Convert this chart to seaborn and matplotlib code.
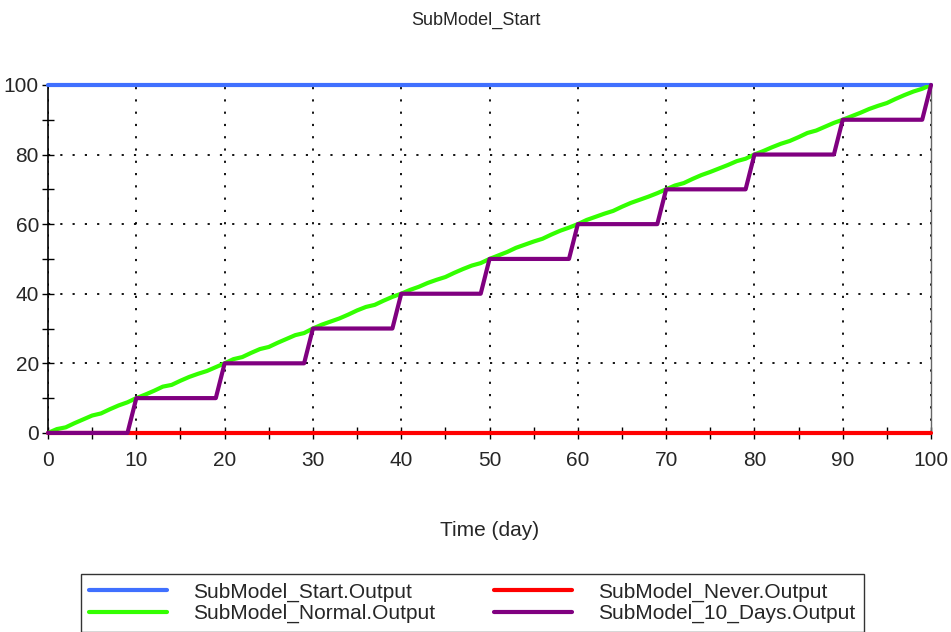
import matplotlib
matplotlib.use("Agg")
import matplotlib.pyplot as plt
import seaborn as sns
from matplotlib.ticker import MultipleLocator

# data
days = list(range(101))
normal_output = [
    0.0, 1.1, 1.6, 2.8, 3.9, 5.0, 5.6, 6.8, 7.9, 8.8,
    10.0, 11.0, 12.1, 13.3, 13.8, 15.0, 16.1, 17.0, 17.8, 18.9,
    20.0, 21.2, 21.8, 23.0, 24.1, 24.7, 25.9, 27.0, 28.1, 28.7,
    30.0, 31.1, 32.0, 32.9, 34.0, 35.2, 36.2, 36.8, 38.0, 39.1,
    40.0, 41.1, 42.0, 43.1, 44.0, 44.8, 46.0, 47.1, 48.1, 48.8,
    50.0, 51.0, 52.0, 53.2, 54.1, 55.0, 55.8, 57.0, 58.1, 59.0,
    60.0, 61.2, 62.1, 63.0, 63.8, 65.0, 66.1, 67.0, 67.9, 68.9,
    70.0, 71.1, 71.8, 73.0, 74.1, 75.0, 76.0, 77.0, 78.1, 78.8,
    80.0, 81.0, 82.1, 83.1, 83.9, 85.0, 86.2, 86.9, 88.0, 89.1,
    90.0, 91.0, 92.0, 93.1, 94.0, 94.8, 96.0, 97.1, 98.1, 98.9,
    100.0,
]
ten_days_t = [0, 9, 10, 19, 20, 29, 30, 39, 40, 49, 50, 59, 60, 69, 70, 79, 80, 89, 90, 99, 100]
ten_days_output = [0, 0, 10, 10, 20, 20, 30, 30, 40, 40, 50, 50, 60, 60, 70, 70, 80, 80, 90, 90, 100]
start_t = [0, 100]
start_output = [100, 100]
never_t = [0, 100]
never_output = [0, 0]

sns.set_style("white")
plt.rcParams['font.family'] = ['Liberation Sans', 'DejaVu Sans']

fig = plt.figure(figsize=(9.51, 6.32), dpi=100)
ax = fig.add_axes([0.0505, 0.315, 0.9285, 0.5506])

lw = 3
sns.lineplot(x=start_t, y=start_output, ax=ax, color='#4070FF', lw=lw,
             label='SubModel_Start.Output', zorder=3, clip_on=False)
sns.lineplot(x=days, y=normal_output, ax=ax, color='#33FF00', lw=lw,
             label='SubModel_Normal.Output', zorder=3)
sns.lineplot(x=never_t, y=never_output, ax=ax, color='#FF0000', lw=lw,
             label='SubModel_Never.Output', zorder=3, clip_on=False)
sns.lineplot(x=ten_days_t, y=ten_days_output, ax=ax, color='#800080', lw=lw,
             label='SubModel_10_Days.Output', zorder=4, clip_on=False)

ax.set_xlim(0, 100)
ax.set_ylim(0, 100)
ax.xaxis.set_major_locator(MultipleLocator(10))
ax.xaxis.set_minor_locator(MultipleLocator(5))
ax.yaxis.set_major_locator(MultipleLocator(20))
ax.yaxis.set_minor_locator(MultipleLocator(10))
ax.tick_params(which='both', direction='inout', length=8, width=1, labelsize=15,
               left=True, bottom=True, color='black')
ax.tick_params(axis='x', pad=9)
ax.tick_params(axis='y', pad=2.5)
ax.grid(True, which='major', color='black', linestyle=(0, (1.2, 5.6)), linewidth=1.3)

for side in ['left', 'bottom']:
    ax.spines[side].set_color('black')
    ax.spines[side].set_linewidth(1.2)
ax.spines['right'].set_color('#666666')
ax.spines['top'].set_visible(False)
ax.spines['right'].set_linewidth(1)

ax.set_xlabel('')
ax.set_ylabel('')
fig.text(0.5, 1 - 20 / 632, 'SubModel_Start', ha='center', va='center', fontsize=13)
fig.text(489.5 / 951, 1 - 530 / 632, 'Time (day)', ha='center', va='center', fontsize=15)

handles, labels = ax.get_legend_handles_labels()
ax.get_legend().remove()
leg = fig.legend(handles, labels,
                 loc='upper left', bbox_to_anchor=(81 / 951, 1 - 574 / 632), ncol=2,
                 fontsize=15, frameon=True, fancybox=False, edgecolor='black',
                 handlelength=3.75, handletextpad=1.25, columnspacing=2.8,
                 borderpad=0.4, borderaxespad=0, labelspacing=0.12)
leg.get_frame().set_linewidth(1)

fig.savefig('out.png', dpi=100)
